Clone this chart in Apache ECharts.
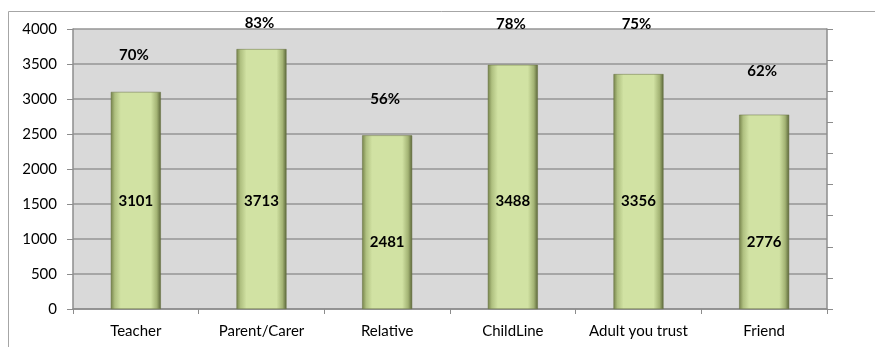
<!DOCTYPE html>
<html>
<head>
<meta charset="utf-8">
<script src="https://cdn.jsdelivr.net/npm/echarts@6/dist/echarts.min.js"></script>
<style>
  html, body { margin: 0; padding: 0; background: #ffffff; }
  #chart { width: 875px; height: 347px; }
</style>
</head>
<body>
<div id="chart"></div>
<script>
// Who young people would tell: counts and share of respondents
const categories = ['Teacher', 'Parent/Carer', 'Relative', 'ChildLine', 'Adult you trust', 'Friend'];
const counts = [3101, 3713, 2481, 3488, 3356, 2776];
const percents = [70, 83, 56, 78, 75, 62];
const yTicks = [0, 500, 1000, 1500, 2000, 2500, 3000, 3500, 4000];

// Label placement (pixels): count label height above the baseline,
// percent label gap above the bar top
const countLabelRise = [100, 100, 59, 100, 100, 59];
const pctLabelGap = [29, 18, 29, 33, 42, 36];

const FONT = 'Lato, "Open Sans", sans-serif';

const barFill = {
  type: 'linear', x: 0, y: 0, x2: 1, y2: 0,
  colorStops: [
    { offset: 0, color: '#75824a' },
    { offset: 0.08, color: '#afc080' },
    { offset: 0.2, color: '#d1e2a3' },
    { offset: 0.8, color: '#d1e2a3' },
    { offset: 0.92, color: '#a3b374' },
    { offset: 1, color: '#5a6538' }
  ]
};

const chart = echarts.init(document.getElementById('chart'), null, { renderer: 'canvas' });

chart.setOption({
  backgroundColor: '#ffffff',
  animation: false,
  graphic: [
    { type: 'line', shape: { x1: 8.5, y1: 11.5, x2: 875, y2: 11.5 }, style: { stroke: '#a6a6a6', lineWidth: 1 } },
    { type: 'line', shape: { x1: 8.5, y1: 11.5, x2: 8.5, y2: 347 }, style: { stroke: '#a6a6a6', lineWidth: 1 } }
  ],
  grid: {
    left: 73, right: 48, top: 29, bottom: 38,
    show: true, backgroundColor: '#d9d9d9', borderWidth: 0
  },
  xAxis: {
    type: 'category',
    data: categories,
    axisLine: { lineStyle: { color: '#8c8c8c', width: 1.5 } },
    axisTick: { show: true, interval: 0, length: 5, lineStyle: { color: '#8c8c8c' } },
    axisLabel: { interval: 0, color: '#000', fontFamily: FONT, fontSize: 15, margin: 15 }
  },
  yAxis: [
    {
      type: 'value',
      min: yTicks[0], max: yTicks[yTicks.length - 1], interval: yTicks[1] - yTicks[0],
      axisLine: { show: true, lineStyle: { color: '#8c8c8c', width: 1.5 } },
      axisTick: { show: true, length: 6, lineStyle: { color: '#8c8c8c' } },
      axisLabel: { color: '#000', fontFamily: FONT, fontSize: 15, margin: 16, formatter: v => String(v) },
      splitLine: { show: true, lineStyle: { color: '#959595', width: 1.5 } }
    },
    {
      type: 'value',
      position: 'right',
      min: 0, max: 90, interval: 10,
      axisLine: { show: true, lineStyle: { color: '#8c8c8c', width: 1.5 } },
      axisTick: { show: true, length: 6, lineStyle: { color: '#8c8c8c' } },
      axisLabel: { show: false },
      splitLine: { show: false }
    }
  ],
  series: [
    {
      name: 'Count',
      type: 'bar',
      barWidth: 50,
      data: counts.map((v, i) => ({
        value: v,
        label: { distance: countLabelRise[i] }
      })),
      itemStyle: { color: barFill, borderColor: '#667140', borderWidth: 0.5 },
      label: {
        show: true,
        position: 'insideBottom',
        color: '#000',
        fontFamily: FONT,
        fontWeight: 'bold',
        fontSize: 15
      }
    },
    {
      name: 'Share',
      type: 'bar',
      barWidth: 50,
      barGap: '-100%',
      silent: true,
      data: counts.map((v, i) => ({
        value: v,
        label: {
          distance: pctLabelGap[i],
          formatter: percents[i] + '%'
        }
      })),
      itemStyle: { color: 'rgba(0,0,0,0)' },
      label: {
        show: true,
        position: 'top',
        offset: [-2, 0],
        color: '#000',
        fontFamily: FONT,
        fontWeight: 'bold',
        fontSize: 15
      }
    }
  ]
});
</script>
</body>
</html>
